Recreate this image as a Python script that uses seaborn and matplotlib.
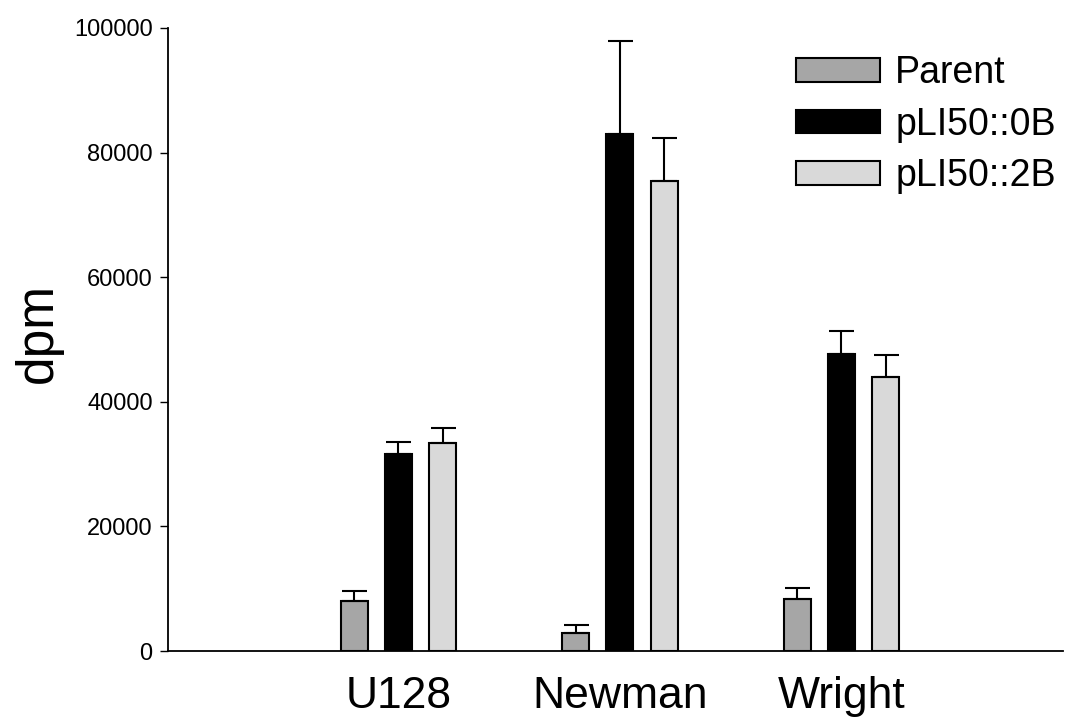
import pandas as pd
import matplotlib.pyplot as plt
import seaborn as sns

# values
strains = ["U128", "Newman", "Wright"]
series = ["Parent", "pLI50::0B", "pLI50::2B"]
parent = [8000, 2900, 8300]
plasmid_0b = [31600, 83000, 47700]
plasmid_2b = [33400, 75400, 44000]
parent_err = [1600, 1300, 1800]
plasmid_0b_err = [1900, 14900, 3600]
plasmid_2b_err = [2400, 6900, 3500]

colors = ["#a6a6a6", "#000000", "#d9d9d9"]

rows = []
for name, vals, errs in zip(series, [parent, plasmid_0b, plasmid_2b],
                            [parent_err, plasmid_0b_err, plasmid_2b_err]):
    for s, v, e in zip(strains, vals, errs):
        rows.append({"strain": s, "series": name, "dpm": v, "err": e})
df = pd.DataFrame(rows)

sns.set_style("ticks")
plt.rcParams["font.family"] = ["Liberation Sans", "DejaVu Sans"]
plt.rcParams["text.color"] = "black"
plt.rcParams["axes.labelcolor"] = "black"
plt.rcParams["xtick.color"] = "black"
plt.rcParams["ytick.color"] = "black"
plt.rcParams["axes.edgecolor"] = "black"

fig = plt.figure(figsize=(10.69, 7.27), dpi=100)
ax = fig.add_axes([168 / 1069, 76 / 727, (1063 - 168) / 1069, (651 - 28) / 727])

sns.barplot(data=df, x="strain", y="dpm", hue="series", order=strains,
            hue_order=series, palette=colors, width=0.6, gap=0.39,
            edgecolor="black", linewidth=1.5, errorbar=None, ax=ax)

# one-sided error bars on top of each bar
for container, name in zip(ax.containers, series):
    sub = df[df["series"] == name].set_index("strain").loc[strains]
    xs = [p.get_x() + p.get_width() / 2 for p in container.patches]
    ax.errorbar(xs, sub["dpm"], yerr=[[0] * len(xs), sub["err"]],
                fmt="none", ecolor="black", elinewidth=1.5, capsize=9,
                capthick=1.5, zorder=1)

ax.set_xlim(-1.04, 3.0)
ax.set_ylim(0, 100000)
ax.set_yticks([0, 20000, 40000, 60000, 80000, 100000])
ax.tick_params(axis="y", labelsize=17, length=6, width=1, pad=5)
ax.tick_params(axis="x", labelsize=32, length=0, pad=18)
ax.set_xlabel("")
ax.set_ylabel("dpm", fontsize=37)
ax.yaxis.set_label_coords(-0.117, 0.51)
sns.despine(ax=ax)
for sp in ["left", "bottom"]:
    ax.spines[sp].set_linewidth(1.3)

ax.legend(loc="upper left", bbox_to_anchor=(796 / 1069, 1 - 55 / 727),
          bbox_transform=fig.transFigure, frameon=False, fontsize=27,
          handlelength=2.25, handleheight=0.6, handletextpad=0.4,
          labelspacing=0.42, borderpad=0, borderaxespad=0)

plt.savefig("out.png", dpi=100)
